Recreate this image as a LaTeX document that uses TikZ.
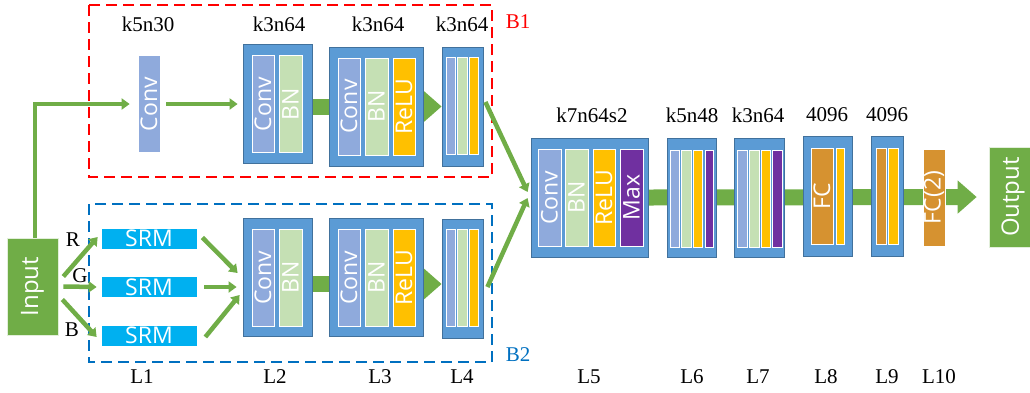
\documentclass[tikz,border=0pt]{standalone}
\usepackage{fontspec}
\usepackage{graphicx}
\setmainfont{Liberation Serif}
\newfontfamily\sfb{Open Sans}
\usetikzlibrary{arrows.meta,backgrounds}

\definecolor{blkblue}{HTML}{5B9BD5}
\definecolor{blkedge}{HTML}{41719C}
\definecolor{convc}{HTML}{8FAADC}
\definecolor{bnc}{HTML}{C5E0B4}
\definecolor{reluc}{HTML}{FFC000}
\definecolor{maxc}{HTML}{7030A0}
\definecolor{fcc}{HTML}{D69230}
\definecolor{srmc}{HTML}{00B0F0}
\definecolor{grn}{HTML}{70AD47}
\definecolor{redb}{HTML}{FF0000}
\definecolor{blueb}{HTML}{0070C0}

\newcommand{\vt}[1]{\rotatebox{90}{#1}}

\tikzset{
  lab/.style={font=\fontsize{21}{24}\selectfont, inner sep=0pt},
  blk/.style={draw=blkedge, fill=blkblue, line width=0.8pt, inner sep=0pt},
  strip/.style 2 args={draw=white, line width=0.7pt, inner sep=0pt, fill=#1,
    minimum width=#2, minimum height=97pt, text=white,
    font=\sfb\fontsize{23}{26}\selectfont},
  srm/.style={fill=srmc, draw=white, line width=0.7pt, inner sep=0pt,
    minimum width=96pt, minimum height=21pt, text=white,
    font=\sfb\fontsize{23}{26}\selectfont},
  io/.style={fill=grn, draw=white!80!grn, line width=0.7pt, inner sep=0pt,
    text=white, font=\sfb\fontsize{24}{27}\selectfont},
  arr/.style={draw=grn, line width=4.5pt, -{Triangle[length=8pt,width=11pt]}},
  fat/.style={draw=grn, line width=16pt, -{Triangle[length=19pt,width=32pt]}},
  bar/.style={draw=grn, line width=16pt},
  boxb/.style={line width=2.5pt, dash pattern=on 11pt off 6pt}
}

\begin{document}
\begin{tikzpicture}[x=1pt,y=-1pt]
\useasboundingbox (0,0) rectangle (1030,392);

% branch boxes
\draw[boxb, redb] (89,5) rectangle (492,177);
\draw[boxb, blueb] (89,204) rectangle (492,362);
\node[lab, text=redb] (b1) at (518,22) {B1};
\node[lab, text=blueb] (b2) at (518,355) {B2};

% input / output
\node[io, minimum width=51pt, minimum height=97pt] (in) at (32.5,286.5) {\vt{Input}};
\node[io, minimum width=48pt, minimum height=100pt] (out) at (1013,197) {\vt{Output}};

% B1
\node[strip={convc}{22pt}] (c1) at (149,104) {\vt{Conv}};
\node[blk, minimum width=69pt, minimum height=119pt] (L2t) at (277.5,103.5) {};
\node[strip={convc}{22pt}] at (263,104) {\vt{Conv}};
\node[strip={bnc}{23pt}] at (290.5,104) {\vt{BN}};
\node[blk, minimum width=94pt, minimum height=119pt] (L3t) at (376,106.5) {};
\node[strip={convc}{22pt}] at (349,106.5) {\vt{Conv}};
\node[strip={bnc}{23pt}] at (376.5,106.5) {\vt{BN}};
\node[strip={reluc}{22pt}] at (404,106.5) {\vt{ReLU}};
\node[blk, minimum width=41pt, minimum height=119pt] (L4t) at (462.5,106.5) {};
\node[strip={convc}{9pt}] at (450.5,106) {};
\node[strip={bnc}{10pt}] at (462,106) {};
\node[strip={reluc}{9pt}] at (473.5,106) {};

% B2
\node[srm] (srmR) at (149,238.5) {SRM};
\node[srm] (srmG) at (149,287) {SRM};
\node[srm] (srmB) at (149,335.5) {SRM};
\node[blk, minimum width=69pt, minimum height=118pt] (L2b) at (277.5,277) {};
\node[strip={convc}{22pt}] at (263,277.5) {\vt{Conv}};
\node[strip={bnc}{23pt}] at (290.5,277.5) {\vt{BN}};
\node[blk, minimum width=94pt, minimum height=118pt] (L3b) at (376,277) {};
\node[strip={convc}{22pt}] at (349,277.5) {\vt{Conv}};
\node[strip={bnc}{23pt}] at (376.5,277.5) {\vt{BN}};
\node[strip={reluc}{22pt}] at (404,277.5) {\vt{ReLU}};
\node[blk, minimum width=41pt, minimum height=119pt] (L4b) at (462.5,278.5) {};
\node[strip={convc}{9pt}] at (450.5,278) {};
\node[strip={bnc}{10pt}] at (462,278) {};
\node[strip={reluc}{9pt}] at (473.5,278) {};

% trunk
\node[blk, minimum width=117pt, minimum height=119pt] (L5) at (589.5,197.5) {};
\node[strip={convc}{23pt}] at (549.5,197.5) {\vt{Conv}};
\node[strip={bnc}{23pt}] at (576.5,197.5) {\vt{BN}};
\node[strip={reluc}{22pt}] at (604,197.5) {\vt{ReLU}};
\node[strip={maxc}{23pt}] at (631.5,197.5) {\vt{Max}};
\node[blk, minimum width=49pt, minimum height=119pt] (L6) at (691.5,197.5) {};
\node[strip={convc}{9pt}] at (674.5,198.5) {};
\node[strip={bnc}{10pt}] at (686,198.5) {};
\node[strip={reluc}{9pt}] at (697.5,198.5) {};
\node[strip={maxc}{8pt}] at (709,198.5) {};
\node[blk, minimum width=50pt, minimum height=119pt] (L7) at (759,197.5) {};
\node[strip={convc}{10pt}] at (742,198.5) {};
\node[strip={bnc}{10pt}] at (754,198.5) {};
\node[strip={reluc}{9pt}] at (765.5,198.5) {};
\node[strip={maxc}{10pt}] at (777,198.5) {};
\node[blk, minimum width=49pt, minimum height=120pt] (L8) at (827.5,196) {};
\node[strip={fcc}{22pt}, minimum height=96pt] at (822,196) {\vt{FC}};
\node[strip={reluc}{8pt}, minimum height=96pt] at (840,196) {};
\node[blk, minimum width=32pt, minimum height=120pt] (L9) at (887,196) {};
\node[strip={fcc}{10pt}, minimum height=96pt] at (881,196) {};
\node[strip={reluc}{10pt}, minimum height=96pt] at (893,196) {};
\node[strip={fcc}{22pt}] (L10) at (934,197.5) {\vt{FC(2)}};

% connectors
\begin{scope}[on background layer]
\draw[bar] (L2t.east |- L3t.west) -- (L3t.west);
\draw[fat] (L3t.east) -- (L3t.east -| L4t.west);
\draw[bar] ([yshift=-7pt]L2b.east |- L3b.west) -- ([yshift=-7pt]L3b.west);
\draw[fat] ([yshift=-7pt]L3b.east) -- ([yshift=-7pt]L3b.east -| L4b.west);
\draw[fat] (L5.east) -- ([xshift=-12pt]out.west);
\end{scope}
\draw[arr] ([xshift=2.5pt]in.north) |- ([xshift=-8pt]c1.west);
\draw[arr] ([xshift=6pt]c1.east) -- ([xshift=-5pt]c1.east -| L2t.west);
\draw[arr] ([xshift=5pt,yshift=10pt]in.east) -- ([xshift=-3pt,yshift=1.5pt]srmR.west);
\draw[arr] ([xshift=5pt]in.east) -- ([xshift=-4pt]srmG.west);
\draw[arr] ([xshift=4pt,yshift=-13pt]in.east) -- ([xshift=-4pt,yshift=-1.5pt]srmB.west);
\draw[arr] ([xshift=5pt,yshift=1pt]srmR.east) -- ([xshift=-5pt,yshift=4pt]L2b.west);
\draw[arr] ([xshift=7pt]srmG.east) -- ([xshift=-6pt,yshift=-10pt]L2b.west);
\draw[arr] ([xshift=8pt,yshift=-1.5pt]srmB.east) -- ([xshift=-3pt,yshift=-18pt]L2b.west);
\draw[arr] ([xshift=2pt,yshift=4.5pt]L4t.east) -- ([xshift=-3pt,yshift=5.5pt]L5.west);
\draw[arr] ([xshift=4pt,yshift=-8.5pt]L4b.east) -- ([xshift=-3pt,yshift=-0.5pt]L5.west);

% channel labels
\node[lab] (r) at (73,240) {R};
\node[lab] (g) at (80,276) {G};
\node[lab] (b) at (72,330) {B};

% kernel labels
\node[lab] at (148,24) {k5n30};
\node[lab] at (279,24) {k3n64};
\node[lab] at (378,24) {k3n64};
\node[lab] at (462,24) {k3n64};
\node[lab] at (592,115) {k7n64s2};
\node[lab] at (692,115) {k5n48};
\node[lab] at (758,115) {k3n64};
\node[lab] at (827,115) {4096};
\node[lab] at (887,115) {4096};

% layer labels
\node[lab] at (142,377) {L1};
\node[lab] at (275,377) {L2};
\node[lab] at (380,377) {L3};
\node[lab] at (462,377) {L4};
\node[lab] at (589,377) {L5};
\node[lab] at (692,377) {L6};
\node[lab] at (758,377) {L7};
\node[lab] at (826,377) {L8};
\node[lab] at (887,377) {L9};
\node[lab] at (939,377) {L10};
\end{tikzpicture}
\end{document}
